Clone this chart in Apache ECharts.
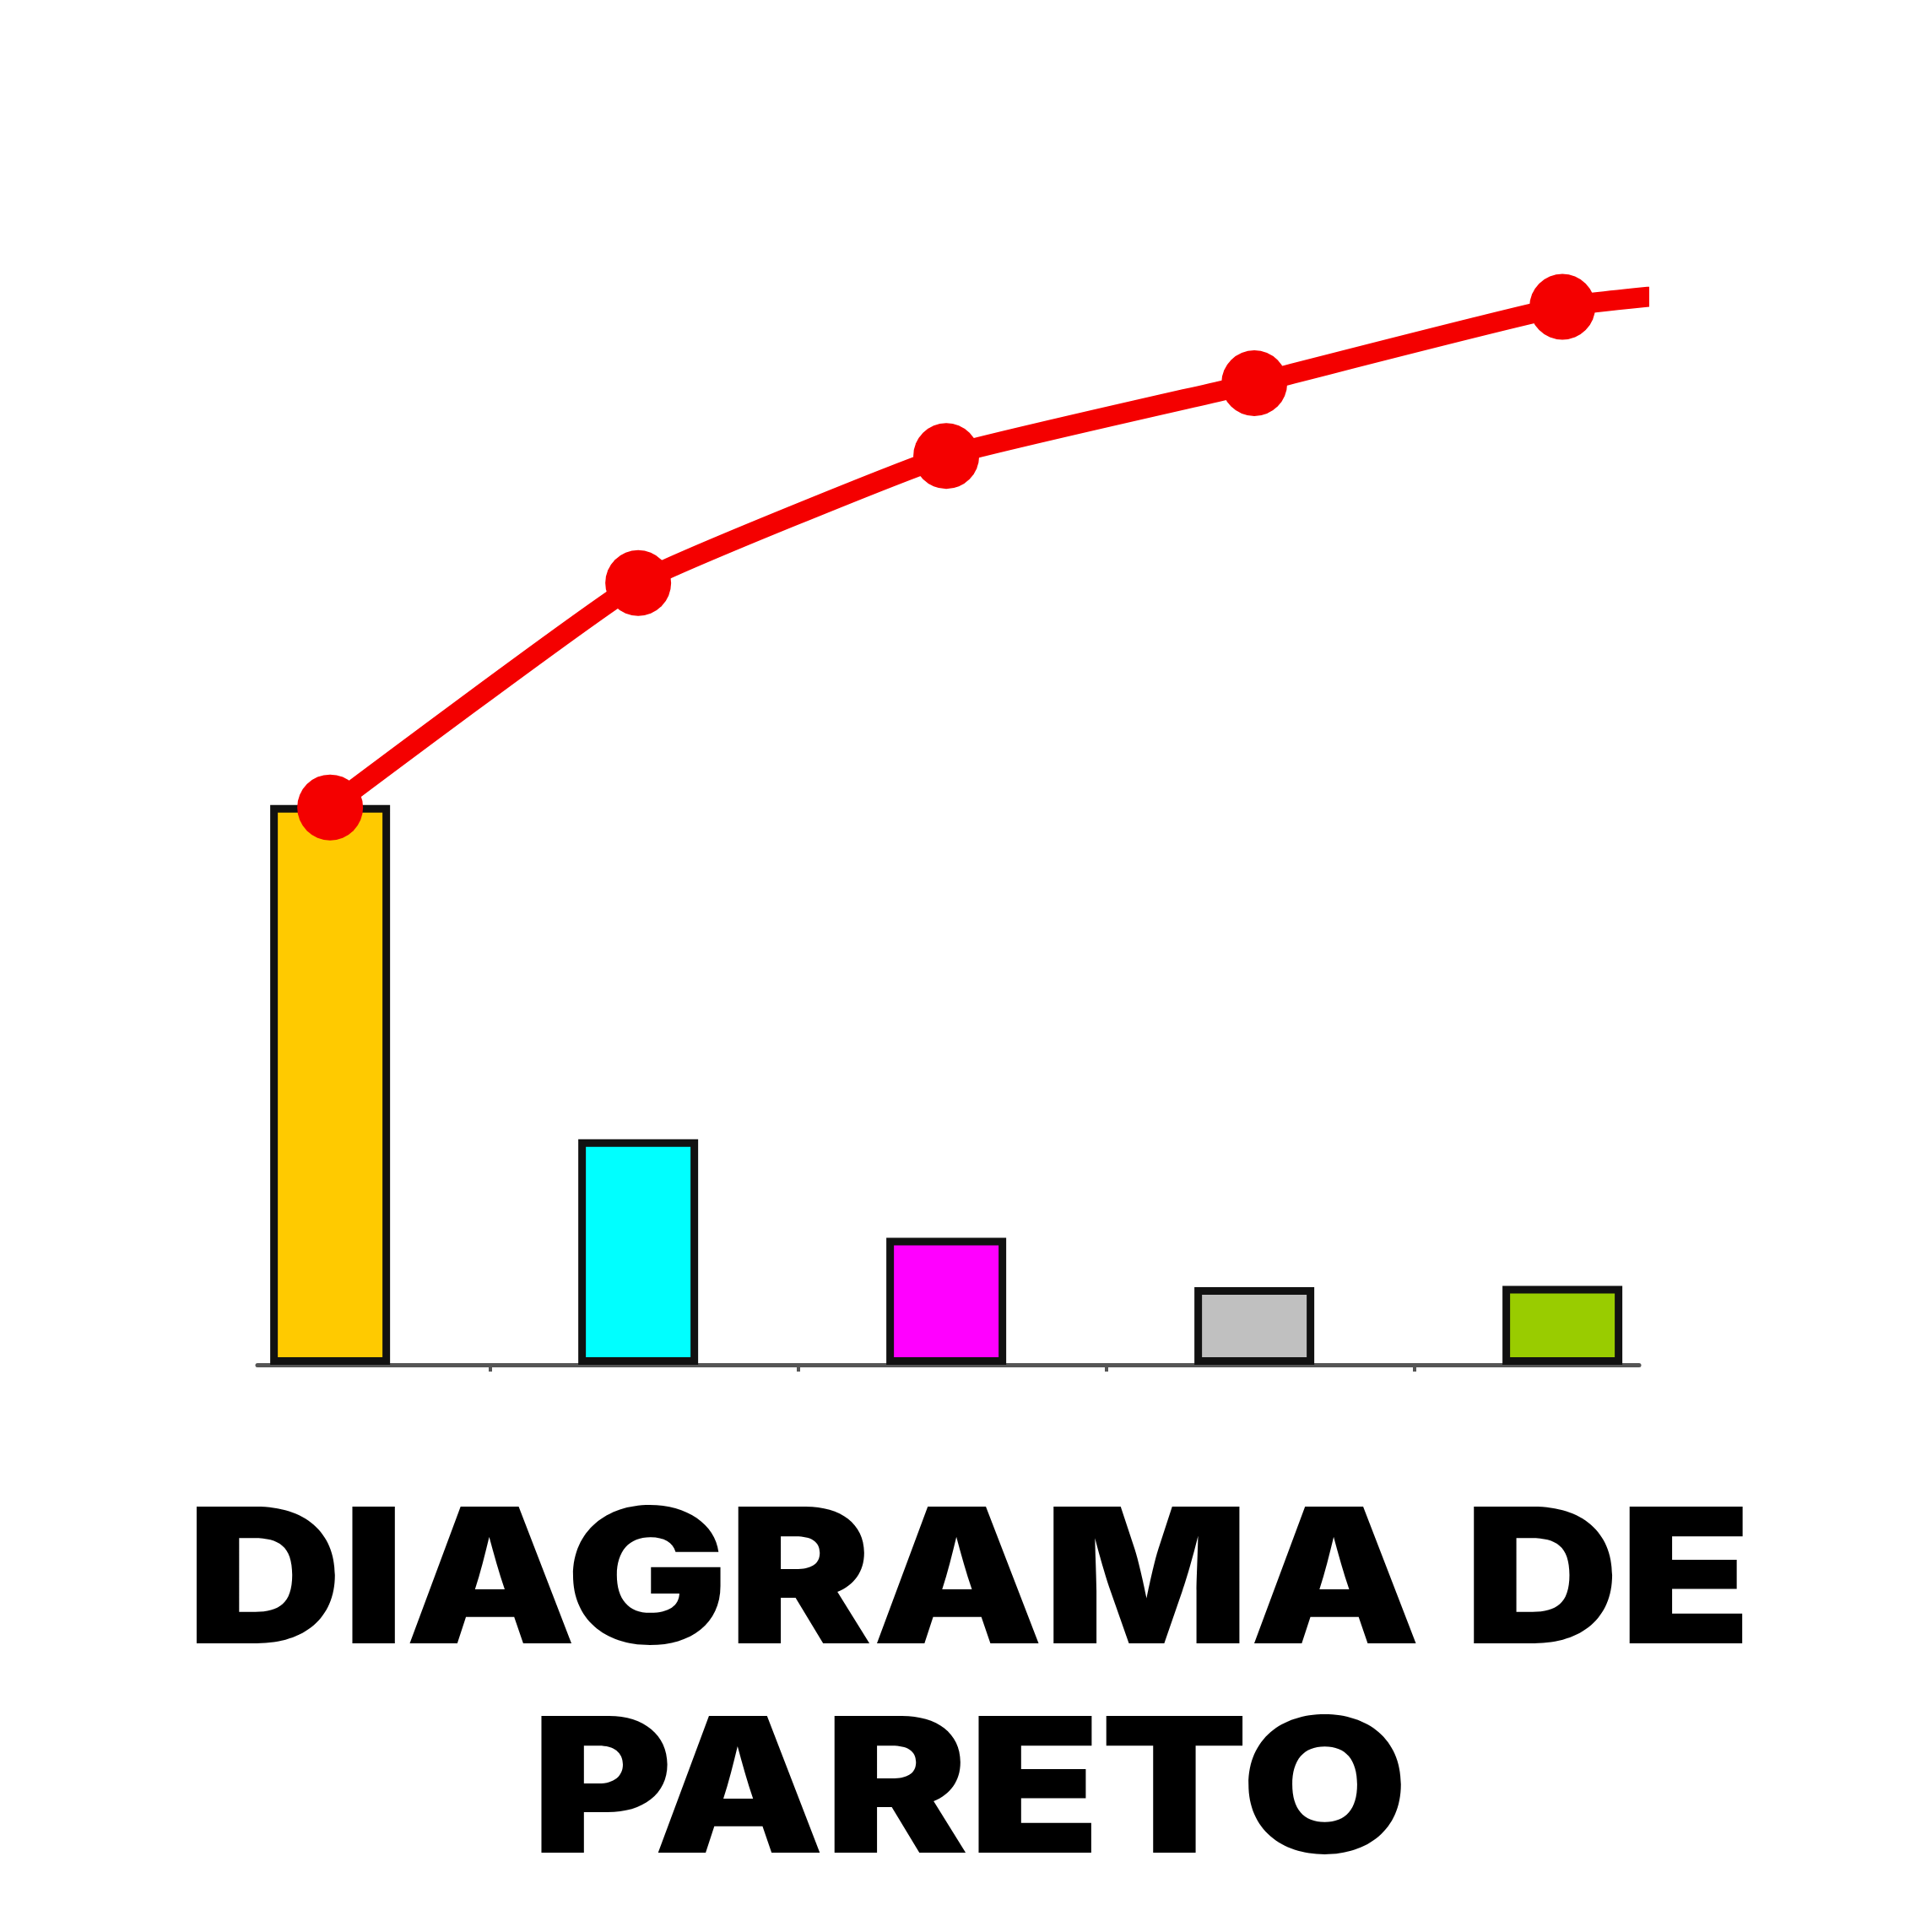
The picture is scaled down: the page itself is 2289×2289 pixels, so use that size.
<!DOCTYPE html>
<html><head><meta charset="utf-8">
<script src="https://cdn.jsdelivr.net/npm/echarts@6/dist/echarts.min.js"></script>
<style>html,body{margin:0;padding:0;background:#fff}#c{width:2289px;height:2289px}</style>
</head><body><div id="c"></div>
<script>
const categories = ['A', 'B', 'C', 'D', 'E'];
const frequencies = [45.4, 18.3, 10.3, 6.3, 6.4];
const barColors = ['#FFCA00', '#00FFFF', '#FF00FF', '#C0C0C0', '#99CC00'];
const cumulativePositions = [0, 1, 2, 3, 4, 5];
const cumulativeValues = [45.2, 63.4, 73.7, 79.6, 85.8, 88.3];
const tickPositions = [0.52, 1.52, 2.52, 3.52];
const titleLines = ['DIAGRAMA DE', 'PARETO'];

const chart = echarts.init(document.getElementById('c'), null, {renderer: 'canvas'});
const base = {fontFamily: 'Inter', fontWeight: 900, fontSize: 222, fill: '#000', align: 'center', verticalAlign: 'middle'};
chart.setOption({
  animation: false,
  backgroundColor: '#fff',
  grid: {left: 305, right: 347, top: 156, bottom: 672, containLabel: false},
  xAxis: {
    type: 'value', min: -0.236, max: 4.249,
    axisLine: {show: true, lineStyle: {color: '#555', width: 5}},
    axisTick: {show: true, customValues: tickPositions, length: 8, lineStyle: {color: '#555', width: 4}},
    axisLabel: {show: false},
    splitLine: {show: false}
  },
  yAxis: {
    type: 'value', min: 0, max: 100,
    axisLine: {show: false}, axisTick: {show: false}, axisLabel: {show: false}, splitLine: {show: false}
  },
  series: [
    {
      type: 'bar', name: 'Frecuencia', barWidth: 142, z: 2,
      data: frequencies.map((v, i) => ({name: categories[i], value: [i, v], itemStyle: {color: barColors[i], borderColor: '#111', borderWidth: 9}}))
    },
    {
      type: 'line', name: 'Acumulado', z: 5, clip: true, smooth: 0.12,
      symbol: 'circle', symbolSize: 78,
      lineStyle: {color: '#F40000', width: 24},
      itemStyle: {color: '#F40000'},
      data: cumulativeValues.map((v, i) => [cumulativePositions[i], v])
    }
  ],
  graphic: [
    {type: 'text', x: 1148, y: 1880, scaleX: 1.15, style: Object.assign({text: titleLines[0]}, base)},
    {type: 'text', x: 1149, y: 2128, scaleX: 1.15, style: Object.assign({text: titleLines[1]}, base)}
  ]
});
</script></body></html>
